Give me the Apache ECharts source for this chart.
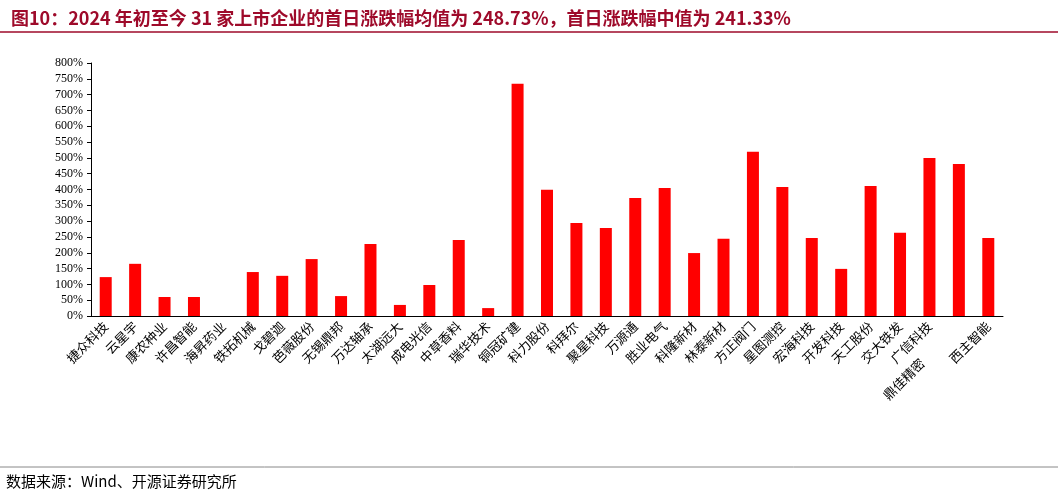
<!DOCTYPE html>
<html><head><meta charset="utf-8">
<script src="https://cdn.jsdelivr.net/npm/echarts@6/dist/echarts.min.js"></script>
<style>body{margin:0;background:#fff}#c{width:1058px;height:498px}</style>
</head><body><div id="c"></div>
<script>
const categories=['捷众科技','云星宇','康农种业','许昌智能','海昇药业','铁拓机械','戈碧迦','芭薇股份','无锡鼎邦','万达轴承','太湖远大','成电光信','中草香料','瑞华技术','铜冠矿建','科力股份','科拜尔','聚星科技','万源通','胜业电气','科隆新材','林泰新材','方正阀门','星图测控','宏海科技','开发科技','天工股份','交大铁发','广信科技','鼎佳精密','西主智能'];
const values=[123,165,60,60,null,139,127,180,63,228,35,98,240,25,734,399,294,278,373,405,199,244,519,408,247,149,411,263,500,481,247];
const f='"Noto Sans CJK SC", "Liberation Serif", serif';
const chart=echarts.init(document.getElementById('c'));
chart.setOption({
  animation:false,
  title:{text:'图10：2024 年初至今 31 家上市企业的首日涨跌幅均值为 248.73%，首日涨跌幅中值为 241.33%',left:6,top:4,textStyle:{fontSize:18,fontWeight:'bold',color:'#9E0A2A',fontFamily:f}},
  graphic:[
    {type:'line',shape:{x1:0,y1:32,x2:1058,y2:32},style:{stroke:'#9E0A2A',lineWidth:1.5}},
    {type:'line',shape:{x1:0,y1:467,x2:1058,y2:467},style:{stroke:'#888',lineWidth:1}},
    {type:'text',left:6,top:474,style:{text:'数据来源：Wind、开源证券研究所',font:'15px '+f,fill:'#000'}}
  ],
  grid:{left:91,right:55,top:63,bottom:182},
  xAxis:{type:'category',data:categories,axisTick:{show:false},axisLine:{lineStyle:{color:'#000'}},
    axisLabel:{interval:0,rotate:45,fontSize:13,color:'#000',fontFamily:f,margin:8,
      formatter:v=>v==='鼎佳精密'?v+'　　　　':v}},
  yAxis:{type:'value',min:0,max:800,interval:50,splitLine:{show:false},
    axisLine:{show:true,lineStyle:{color:'#000'}},axisTick:{show:true,length:4,inside:false},
    axisLabel:{formatter:'{value}%',fontSize:12,color:'#000',fontFamily:'"Liberation Serif", serif'}},
  series:[{type:'bar',data:values,barWidth:12,itemStyle:{color:'#FF0000'}}]
});
</script></body></html>
